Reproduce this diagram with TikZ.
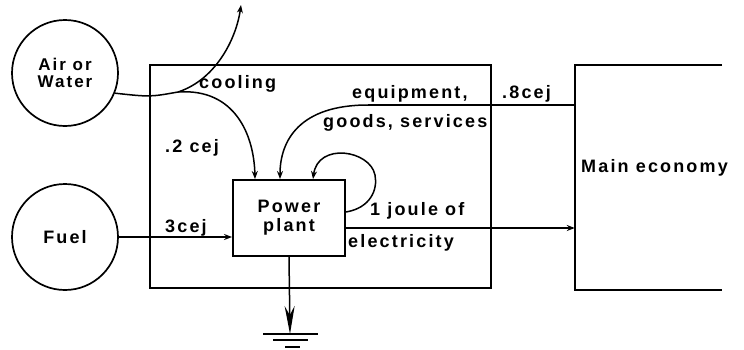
\documentclass[tikz,border=0pt]{standalone}
\usepackage{fontspec}
\setmainfont{Liberation Sans}[LetterSpace=12]
\usetikzlibrary{arrows.meta}

\begin{document}
\begin{tikzpicture}[x=1pt, y=-1pt, font=\bfseries\fontsize{18}{19}\selectfont,
  wire/.style={line width=1.5pt},
  flow/.style={wire, -{Stealth[length=8pt,width=6pt]}},
  frame/.style={draw, rectangle, line width=1.9pt, inner sep=0pt},
  source/.style={draw, circle, line width=1.7pt, minimum size=106pt, inner sep=0pt, align=center},
  lab/.style={anchor=base west, inner sep=0pt}]
  \useasboundingbox (0,0) rectangle (744,349);
  \node[source, font=\bfseries\fontsize{17}{17}\selectfont] (air) at (65,73) {Air or\\Water};
  \node[source] (fuel) at (65,237) {Fuel};
  \node[frame, minimum width=341pt, minimum height=223pt] (sys) at (320.5,176.5) {};
  \node[frame, minimum width=112pt, minimum height=76pt, align=center] (pp) at (289,218) {Power\\plant};
  \node[minimum width=147pt, minimum height=225pt, inner sep=0pt] (econ) at (648.5,177.5) {};
  \draw[line width=1.9pt] (econ.north east) -- (econ.north west) -- (econ.south west) -- (econ.south east);
  \coordinate (split) at (178,92);
  \coordinate (vent) at (241,5);
  \coordinate (bend) at (368,105);
  \coordinate (elec) at ([yshift=-10pt]pp.east);
  \coordinate (gnd) at (290,334);
  \draw[wire] (air.-22) .. controls (150,97) .. (split);
  \draw[flow] (split) .. controls (215,80) and (236,40) .. (vent);
  \draw[flow] (split) .. controls (235,88) and (254,135) .. ([xshift=-34pt]pp.north);
  \draw[wire] (econ.west |- bend) -- (bend);
  \draw[flow] (bend) .. controls (300,105) and (280,140) .. ([xshift=-9pt]pp.north);
  \draw[flow] ([yshift=6pt]pp.east) .. controls (370,208) and (378,190) .. (375,175)
    .. controls (370,150) and (318,142) .. ([xshift=24pt]pp.north);
  \draw[flow] (elec) -- (elec -| econ.west);
  \draw[flow] (fuel.east) -- (fuel.east -| pp.west);
  \draw[wire, -{Stealth[length=28pt,width=10pt]}] (pp.south) -- (gnd);
  \draw[wire] (263,334) -- (318,334) (273,340) -- (308,340) (285,347) -- (300,347);
  \node[lab] (cool) at (199,88) {cooling};
  \node[lab] (cool2) at (165,152) {.2 cej};
  \node[lab] (equip) at (352,98) {equipment,};
  \node[lab] (goods) at (323,127) {goods, services};
  \node[lab] (equip2) at (502,98) {.8cej};
  \node[lab] (joule) at (370,215) {1 joule of};
  \node[lab] (elecl) at (348,247) {electricity};
  \node[lab] (fuel2) at (165,232) {3cej};
  \node[lab] (main) at (581,172) {Main economy};
\end{tikzpicture}
\end{document}
